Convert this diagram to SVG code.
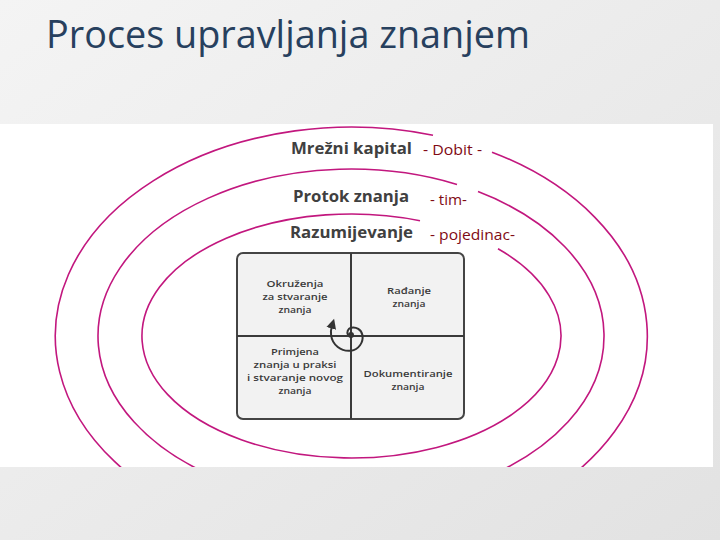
<svg xmlns="http://www.w3.org/2000/svg" width="720" height="540" viewBox="0 0 720 540">
  <defs>
    <linearGradient id="bg" x1="0" y1="0" x2="1" y2="1">
      <stop offset="0" stop-color="#f4f4f4"/>
      <stop offset="1" stop-color="#e2e2e2"/>
    </linearGradient>
    <clipPath id="pic">
      <rect x="0" y="124" width="713" height="343"/>
    </clipPath>
    <marker id="arrow" markerUnits="userSpaceOnUse" markerWidth="12" markerHeight="12" viewBox="0 0 12 12" refX="2" refY="6" orient="auto">
      <path d="M0,1 L10,6 L0,11 Z" fill="#333"/>
    </marker>
    <style>
      .ring { fill: none; stroke: #c2177e; stroke-width: 1.6; }
      .lvl { font-family: "Open Sans", "Liberation Sans", sans-serif; font-weight: 700; font-size: 16px; fill: #404040; }
      .who { font-family: "Open Sans", "Liberation Sans", sans-serif; font-size: 15px; fill: #7f0a14; }
      .q { font-family: "Open Sans", "Liberation Sans", sans-serif; font-weight: 600; font-size: 9.6px; fill: #3a3a3a; text-anchor: middle; }
      .box { fill: #f2f2f2; stroke: #444; stroke-width: 2; }
      .div { stroke: #3a3a3a; stroke-width: 2; }
      .spiral { fill: none; stroke: #333; stroke-width: 2; }
    </style>
  </defs>

  <rect x="0" y="0" width="720" height="540" fill="url(#bg)"/>
  <rect x="0" y="124" width="713" height="343" fill="#ffffff"/>

  <g id="title">
    <text x="46" y="48" font-family="'Open Sans', 'Liberation Sans', sans-serif" font-size="38" fill="#27405e" textLength="484" lengthAdjust="spacingAndGlyphs">Proces upravljanja znanjem</text>
  </g>

  <g id="rings" clip-path="url(#pic)">
    <path id="ring-outer" class="ring" d="M492,152.2 A296,209 0 1 1 433,135.2"/>
    <path id="ring-middle" class="ring" d="M478,191.6 A253,167 0 1 1 457,184.4"/>
    <path id="ring-inner" class="ring" d="M498,248.8 A209.5,122 0 1 1 420,220.7"/>
  </g>

  <g id="level-labels">
    <g id="mrezni-kapital">
      <text class="lvl" x="291" y="154" textLength="121" lengthAdjust="spacingAndGlyphs">Mrežni kapital</text>
      <text class="who" x="423" y="155" textLength="59" lengthAdjust="spacingAndGlyphs">- Dobit -</text>
    </g>
    <g id="protok-znanja">
      <text class="lvl" x="293" y="202" textLength="116" lengthAdjust="spacingAndGlyphs">Protok znanja</text>
      <text class="who" x="430" y="205" textLength="37" lengthAdjust="spacingAndGlyphs">- tim-</text>
    </g>
    <g id="razumijevanje">
      <text class="lvl" x="290" y="238" textLength="123" lengthAdjust="spacingAndGlyphs">Razumijevanje</text>
      <text class="who" x="430" y="240" textLength="85" lengthAdjust="spacingAndGlyphs">- pojedinac-</text>
    </g>
  </g>

  <g id="matrix">
    <rect class="box" x="237" y="253" width="227" height="166" rx="6"/>
    <line class="div" x1="351" y1="253" x2="351" y2="419"/>
    <line class="div" x1="237" y1="336" x2="464" y2="336"/>
  </g>

  <g id="q-okruzenja">
    <text class="q" x="295" y="287" textLength="57" lengthAdjust="spacingAndGlyphs">Okruženja</text>
    <text class="q" x="295" y="300.2" textLength="65" lengthAdjust="spacingAndGlyphs">za stvaranje</text>
    <text class="q" x="295" y="313.4" textLength="33" lengthAdjust="spacingAndGlyphs">znanja</text>
  </g>
  <g id="q-radanje">
    <text class="q" x="409" y="294" textLength="44" lengthAdjust="spacingAndGlyphs">Rađanje</text>
    <text class="q" x="409" y="307.2" textLength="33" lengthAdjust="spacingAndGlyphs">znanja</text>
  </g>
  <g id="q-primjena">
    <text class="q" x="295" y="354.5" textLength="48" lengthAdjust="spacingAndGlyphs">Primjena</text>
    <text class="q" x="295" y="367.7" textLength="83" lengthAdjust="spacingAndGlyphs">znanja u praksi</text>
    <text class="q" x="295" y="380.9" textLength="96" lengthAdjust="spacingAndGlyphs">i stvaranje novog</text>
    <text class="q" x="295" y="394.1" textLength="33" lengthAdjust="spacingAndGlyphs">znanja</text>
  </g>
  <g id="q-dokumentiranje">
    <text class="q" x="408" y="377" textLength="89" lengthAdjust="spacingAndGlyphs">Dokumentiranje</text>
    <text class="q" x="408" y="390.2" textLength="33" lengthAdjust="spacingAndGlyphs">znanja</text>
  </g>

  <g id="connectors">
    <circle cx="351" cy="335" r="3" fill="#333"/>
    <path class="spiral" marker-end="url(#arrow)" d="M348,335 A5,5 0 0 1 351,327.8 A9.3,9.3 0 0 1 362.4,335 A13.5,13.5 0 0 1 351,350.7 A17.8,17.8 0 0 1 331.1,335 A20.5,20.5 0 0 1 331.8,326.5"/>
  </g>
</svg>
